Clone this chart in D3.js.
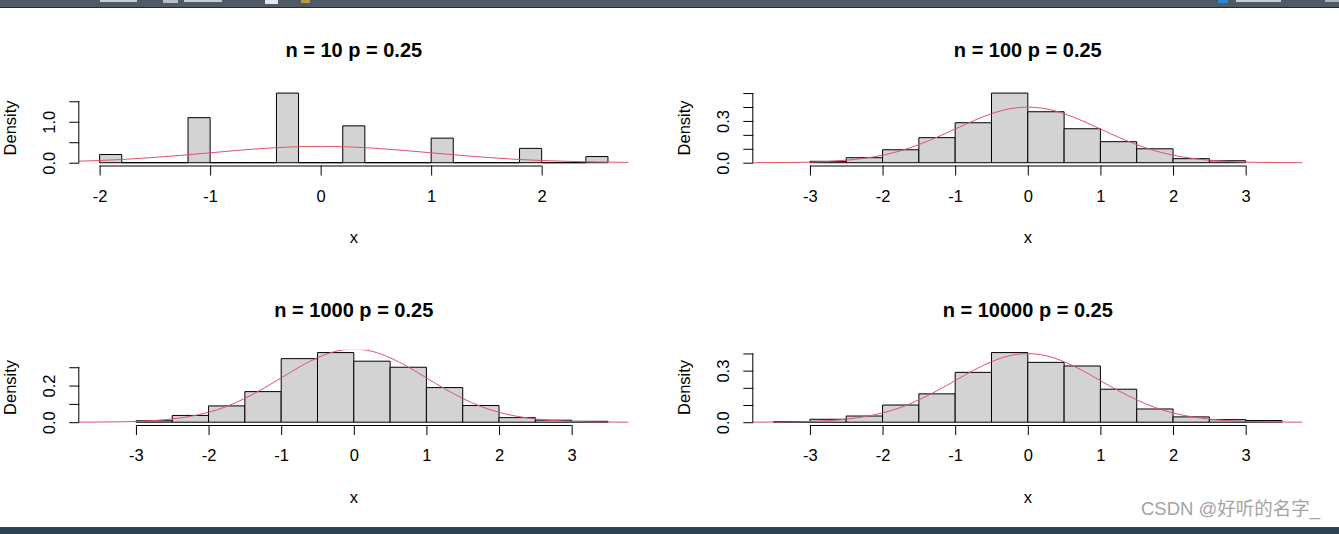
<!DOCTYPE html>
<html lang="en">
<head>
<meta charset="UTF-8">
<title>Standardised binomial histograms</title>
<script src="https://cdnjs.cloudflare.com/ajax/libs/d3/7.8.5/d3.min.js"></script>
<style>
  body { margin: 0; background: #fff; }
  svg { display: block; }
  .axis text { font-family: "Liberation Sans", Arial, sans-serif; font-size: 16.5px; fill: #000; }
  .lab { font-family: "Liberation Sans", Arial, sans-serif; font-size: 16.5px; fill: #000; }
  .main { font-family: "Liberation Sans", Arial, sans-serif; font-size: 20px; font-weight: bold; fill: #000; }
  .bar { fill: #d3d3d3; stroke: #000; stroke-width: 1; }
  .dens { fill: none; stroke: #df536b; stroke-width: 1; }
</style>
</head>
<body>
<svg id="chart" width="1339" height="534"></svg>
<script>
// titles of the four panels
const titles = ["n = 10 p = 0.25", "n = 100 p = 0.25", "n = 1000 p = 0.25", "n = 10000 p = 0.25"];

// histogram breaks and densities
const breaks10 = [-2.0, -1.8, -1.6, -1.4, -1.2, -1.0, -0.8, -0.6, -0.4, -0.2, 0.0, 0.2,
                  0.4, 0.6, 0.8, 1.0, 1.2, 1.4, 1.6, 1.8, 2.0, 2.2, 2.4, 2.6];
const dens10 = [0.2, 0, 0, 0, 1.1, 0, 0, 0, 1.7, 0, 0, 0.9, 0, 0, 0, 0.6, 0, 0, 0, 0.35, 0, 0, 0.15];

const breaks100 = [-3, -2.5, -2, -1.5, -1, -0.5, 0, 0.5, 1, 1.5, 2, 2.5, 3];
const dens100 = [0.01, 0.036, 0.093, 0.18, 0.287, 0.50, 0.366, 0.244, 0.151, 0.10, 0.029, 0.014];

const breaks1000 = [-3, -2.5, -2, -1.5, -1, -0.5, 0, 0.5, 1, 1.5, 2, 2.5, 3, 3.5];
const dens1000 = [0.008, 0.037, 0.089, 0.167, 0.347, 0.38, 0.333, 0.30, 0.189, 0.091, 0.025, 0.011, 0.005];

const breaks10000 = [-3.5, -3, -2.5, -2, -1.5, -1, -0.5, 0, 0.5, 1, 1.5, 2, 2.5, 3, 3.5];
const dens10000 = [0.004, 0.017, 0.036, 0.10, 0.165, 0.29, 0.405, 0.348, 0.327, 0.192, 0.077, 0.031, 0.015, 0.01];

// x limits of each panel
const xlims = [[-2, 2.6], [-3.5, 3.5], [-3.5, 3.5], [-3.5, 3.5]];

// tick values and the labels R kept
const xTicks10 = [-2, -1, 0, 1, 2];
const xTicks = [-3, -2, -1, 0, 1, 2, 3];
const yTicks10 = [0, 0.5, 1.0, 1.5];
const yLabels10 = [0, 1.0];
const yTicks100 = [0, 0.1, 0.2, 0.3, 0.4, 0.5];
const yLabels100 = [0, 0.3];
const yTicks1000 = [0, 0.1, 0.2, 0.3];
const yLabels1000 = [0, 0.2];
const yTicks10000 = [0, 0.1, 0.2, 0.3, 0.4];
const yLabels10000 = [0, 0.3];

// red density curve (same in every panel)
const curveX = [-4, -3.75, -3.5, -3.25, -3, -2.75, -2.5, -2.25, -2, -1.75, -1.5, -1.25, -1, -0.75, -0.5, -0.25,
                0, 0.25, 0.5, 0.75, 1, 1.25, 1.5, 1.75, 2, 2.25, 2.5, 2.75, 3, 3.25, 3.5, 3.75, 4];
const curveY = [0.0001, 0.0004, 0.001, 0.002, 0.004, 0.009, 0.018, 0.032, 0.054, 0.086, 0.130, 0.183, 0.242, 0.301, 0.352, 0.387,
                0.399, 0.387, 0.352, 0.301, 0.242, 0.183, 0.130, 0.086, 0.054, 0.032, 0.018, 0.009, 0.004, 0.002, 0.001, 0.0004, 0.0001];

const panels = [
  { breaks: breaks10, dens: dens10, xt: xTicks10, yt: yTicks10, yl: yLabels10 },
  { breaks: breaks100, dens: dens100, xt: xTicks, yt: yTicks100, yl: yLabels100 },
  { breaks: breaks1000, dens: dens1000, xt: xTicks, yt: yTicks1000, yl: yLabels1000 },
  { breaks: breaks10000, dens: dens10000, xt: xTicks, yt: yTicks10000, yl: yLabels10000 }
];

// layout of one figure (pixels), right column shifted by colStep, bottom row by rowStep
const box = { left: 79.3, right: 628.3, top: 90.3, bottom: 165.5 };
const colStep = 674, rowStep = 259.5;

const svg = d3.select("#chart");

// RStudio toolbar strip at the top, bottom pane border
const bar = svg.append("g");
bar.append("rect").attr("x", 0).attr("y", 0).attr("width", 1339).attr("height", 7).attr("fill", "#4e5a65");
bar.append("rect").attr("x", 0).attr("y", 7).attr("width", 1339).attr("height", 1).attr("fill", "#1f2b35");
[[100, 37], [184, 38], [1236, 45]].forEach(([x, w]) => {
  bar.append("rect").attr("x", x).attr("y", 0).attr("width", w).attr("height", 2).attr("fill", "#c9ced3");
});
bar.append("rect").attr("x", 163).attr("y", 0).attr("width", 15).attr("height", 3).attr("fill", "#b8bec4");
bar.append("rect").attr("x", 265).attr("y", 0).attr("width", 13).attr("height", 4).attr("fill", "#e6e8ea");
bar.append("rect").attr("x", 301).attr("y", 0).attr("width", 9).attr("height", 3).attr("fill", "#b89a45");
bar.append("rect").attr("x", 1218).attr("y", 0).attr("width", 10).attr("height", 3).attr("fill", "#2f86d1");
bar.append("rect").attr("x", 1325).attr("y", 0).attr("width", 14).attr("height", 2).attr("fill", "#b0b6bc");
svg.append("rect").attr("x", 0).attr("y", 527).attr("width", 1339).attr("height", 7).attr("fill", "#2f4254");

panels.forEach((p, i) => {
  const ox = (i % 2) * colStep;
  const oy = Math.floor(i / 2) * rowStep;
  const [lo, hi] = xlims[i];
  const ymax = d3.max(p.dens);

  const x = d3.scaleLinear()
    .domain([lo - 0.04 * (hi - lo), hi + 0.04 * (hi - lo)])
    .range([ox + box.left, ox + box.right]);
  const y = d3.scaleLinear()
    .domain([-0.04 * ymax, 1.04 * ymax])
    .range([oy + box.bottom, oy + box.top]);

  const g = svg.append("g");

  // clip to plot region
  const clipId = "clip" + i;
  svg.append("clipPath").attr("id", clipId).append("rect")
    .attr("x", ox + box.left).attr("y", oy + box.top)
    .attr("width", box.right - box.left).attr("height", box.bottom - box.top);

  const plot = g.append("g").attr("clip-path", `url(#${clipId})`);

  // histogram bins (zero height bins draw as a baseline segment, like R)
  const bins = p.dens.map((d, k) => ({ x0: p.breaks[k], x1: p.breaks[k + 1], d }));
  plot.selectAll("path.bar").data(bins).join("path")
    .attr("class", "bar")
    .attr("d", b => `M${x(b.x0)},${y(0)}V${y(b.d)}H${x(b.x1)}V${y(0)}Z`);

  // density curve
  const line = d3.line().x(d => x(d[0])).y(d => y(d[1])).curve(d3.curveCatmullRom);
  plot.append("path").attr("class", "dens").attr("d", line(d3.zip(curveX, curveY)));

  // x axis
  const xa = g.append("g").attr("class", "axis")
    .attr("transform", `translate(0,${oy + box.bottom})`)
    .call(d3.axisBottom(x).tickValues(p.xt).tickSize(10).tickSizeOuter(0).tickFormat(d => String(d)));
  xa.select(".domain").remove();
  xa.selectAll(".tick line").attr("stroke", "#000");
  xa.selectAll(".tick text").attr("y", 36.2).attr("dy", 0);
  xa.append("line")
    .attr("x1", x(p.xt[0])).attr("x2", x(p.xt[p.xt.length - 1]))
    .attr("y1", 0.5).attr("y2", 0.5).attr("stroke", "#000");

  // y axis
  const ya = g.append("g").attr("class", "axis")
    .attr("transform", `translate(${ox + box.left},0)`)
    .call(d3.axisLeft(y).tickValues(p.yt).tickSize(10).tickSizeOuter(0)
      .tickFormat(d => p.yl.includes(d) ? d.toFixed(1) : ""));
  ya.select(".domain").remove();
  ya.selectAll(".tick line").attr("stroke", "#000");
  ya.selectAll(".tick text")
    .attr("transform", "rotate(-90)")
    .attr("x", 0).attr("y", -24.3).attr("dy", 0)
    .attr("text-anchor", "middle");
  ya.append("line")
    .attr("x1", -0.5).attr("x2", -0.5)
    .attr("y1", y(p.yt[0])).attr("y2", y(p.yt[p.yt.length - 1])).attr("stroke", "#000");

  // titles and labels
  const cx = ox + (box.left + box.right) / 2;
  g.append("text").attr("class", "main")
    .attr("x", cx).attr("y", oy + 57).attr("text-anchor", "middle").text(titles[i]);
  g.append("text").attr("class", "lab")
    .attr("x", cx).attr("y", oy + 243).attr("text-anchor", "middle").text("x");
  g.append("text").attr("class", "lab")
    .attr("transform", `translate(${ox + 16},${oy + (box.top + box.bottom) / 2}) rotate(-90)`)
    .attr("text-anchor", "middle").text("Density");
});

// watermark
svg.append("text")
  .attr("x", 1141).attr("y", 515)
  .attr("font-family", "'Liberation Sans', 'Noto Sans CJK SC', sans-serif")
  .attr("font-size", 18.5).attr("fill", "#a3a3a3")
  .text("CSDN @好听的名字_");
</script>
</body>
</html>
